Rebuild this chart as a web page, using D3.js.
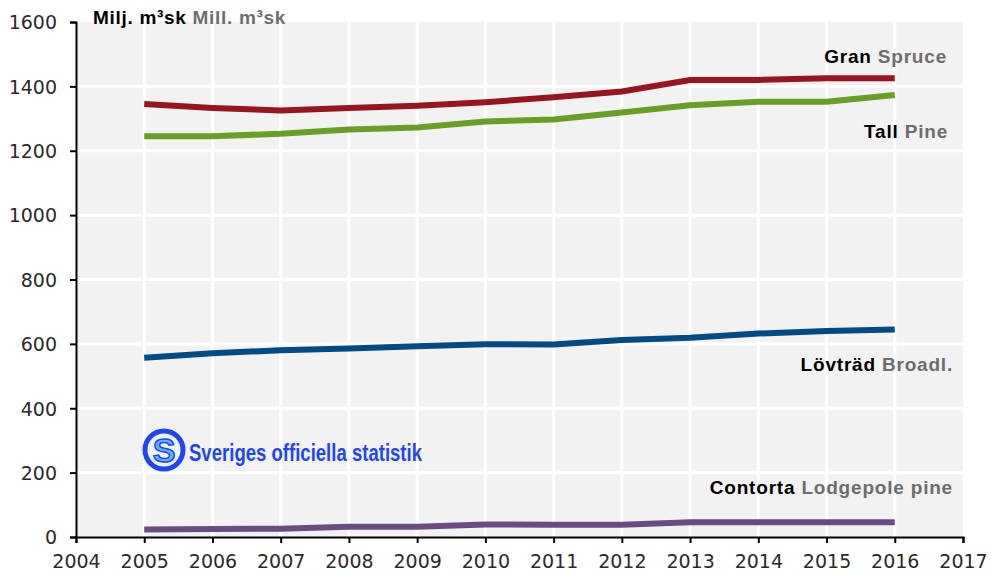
<!DOCTYPE html>
<html>
<head>
<meta charset="utf-8">
<script src="https://cdn.jsdelivr.net/npm/d3@7"></script>
<style>
  body { margin: 0; background: #fff; }
  svg { display: block; font-family: "Liberation Sans", Arial, sans-serif; }
</style>
</head>
<body>
<svg width="991" height="575"></svg>
<script>
// data
var years = [2005, 2006, 2007, 2008, 2009, 2010, 2011, 2012, 2013, 2014, 2015, 2016];
var gran = [1345, 1333, 1325, 1333, 1340, 1351, 1366, 1384, 1420, 1420, 1425, 1425];
var tall = [1245, 1245, 1253, 1266, 1272, 1291, 1297, 1319, 1341, 1352, 1352, 1373];
var lovtrad = [557, 571, 580, 586, 593, 599, 598, 612, 619, 632, 640, 645];
var contorta = [23, 25, 26, 32, 32, 39, 38, 38, 46, 46, 46, 46];
var xTicks = d3.range(2004, 2018);
var yTicks = [0, 200, 400, 600, 800, 1000, 1200, 1400, 1600];

var series = [
  { sv: 'Gran', en: 'Spruce', values: gran, color: '#981420', lx: 947, ly: 63 },
  { sv: 'Tall', en: 'Pine', values: tall, color: '#699f24', lx: 948, ly: 138 },
  { sv: 'Lövträd', en: 'Broadl.', values: lovtrad, color: '#004a85', lx: 953, ly: 371 },
  { sv: 'Contorta', en: 'Lodgepole pine', values: contorta, color: '#6a4c84', lx: 953, ly: 494 }
];

var svg = d3.select('svg');
var x = d3.scaleLinear().domain([2004, 2017]).range([76, 963]);
var y = d3.scaleLinear().domain([0, 1600]).range([537, 22]);

// plot background
svg.append('rect')
  .attr('x', x(2004)).attr('y', y(1600))
  .attr('width', x(2017) - x(2004)).attr('height', y(0) - y(1600))
  .attr('fill', '#f2f2f2');

// grid
svg.selectAll('.vgrid').data(xTicks.slice(1, -1)).enter().append('line')
  .attr('x1', function(d) { return x(d); }).attr('x2', function(d) { return x(d); })
  .attr('y1', y(1600)).attr('y2', y(0))
  .attr('stroke', '#fff').attr('stroke-width', 3);
svg.selectAll('.hgrid').data(yTicks.slice(1, -1)).enter().append('line')
  .attr('x1', x(2004)).attr('x2', x(2017))
  .attr('y1', function(d) { return y(d); }).attr('y2', function(d) { return y(d); })
  .attr('stroke', '#fff').attr('stroke-width', 3);

// axes
var yAxis = svg.append('g')
  .attr('transform', 'translate(' + x(2004) + ',0)')
  .call(d3.axisLeft(y).tickValues(yTicks).tickFormat(d3.format('d')).tickSize(6).tickPadding(13));
var xAxis = svg.append('g')
  .attr('transform', 'translate(0,' + y(0) + ')')
  .call(d3.axisBottom(x).tickValues(xTicks).tickFormat(d3.format('d')).tickSize(6).tickPadding(12));
[xAxis, yAxis].forEach(function(a) {
  a.select('.domain').attr('stroke', '#000').attr('stroke-width', 2);
  a.selectAll('.tick line').attr('stroke', '#000').attr('stroke-width', 2);
  a.selectAll('.tick text').attr('font-size', 19).attr('fill', '#2a2a2a')
    .attr('font-family', '"DejaVu Sans", sans-serif');
});
yAxis.selectAll('.tick text').attr('dy', '0.36em');

// lines
var line = d3.line()
  .x(function(d, i) { return x(years[i]); })
  .y(function(d) { return y(d); });

svg.selectAll('.series').data(series).enter().append('path')
  .attr('class', 'series')
  .attr('d', function(d) { return line(d.values); })
  .attr('fill', 'none')
  .attr('stroke', function(d) { return d.color; })
  .attr('stroke-width', 6);

// series labels
series.forEach(function(s) {
  var t = svg.append('text')
    .attr('x', s.lx).attr('y', s.ly)
    .attr('text-anchor', 'end')
    .attr('font-size', 19).attr('font-weight', 'bold')
    .attr('letter-spacing', 0.8);
  t.append('tspan').attr('fill', '#000').text(s.sv + ' ');
  t.append('tspan').attr('fill', '#6d6d6d').text(s.en);
});

// unit label
var u = svg.append('text').attr('x', 93).attr('y', 24)
  .attr('font-size', 19).attr('font-weight', 'bold').attr('letter-spacing', 0.7);
u.append('tspan').attr('fill', '#000').text('Milj. m³sk ');
u.append('tspan').attr('fill', '#6d6d6d').text('Mill. m³sk');

// logo
var logo = svg.append('g').attr('transform', 'translate(164,450)');
logo.append('circle').attr('r', 19).attr('fill', 'none')
  .attr('stroke', '#1f45f5').attr('stroke-width', 5);
logo.append('text').attr('text-anchor', 'middle').attr('y', 12)
  .attr('font-size', 34).attr('font-weight', 'bold')
  .attr('fill', '#5cb8f5').attr('stroke', '#1f45f5').attr('stroke-width', 1.5)
  .text('S');
svg.append('text').attr('x', 189).attr('y', 461)
  .attr('font-size', 24).attr('font-weight', 'bold')
  .attr('fill', '#1f45f5')
  .attr('textLength', 233).attr('lengthAdjust', 'spacingAndGlyphs')
  .text('Sveriges officiella statistik');
</script>
</body>
</html>
